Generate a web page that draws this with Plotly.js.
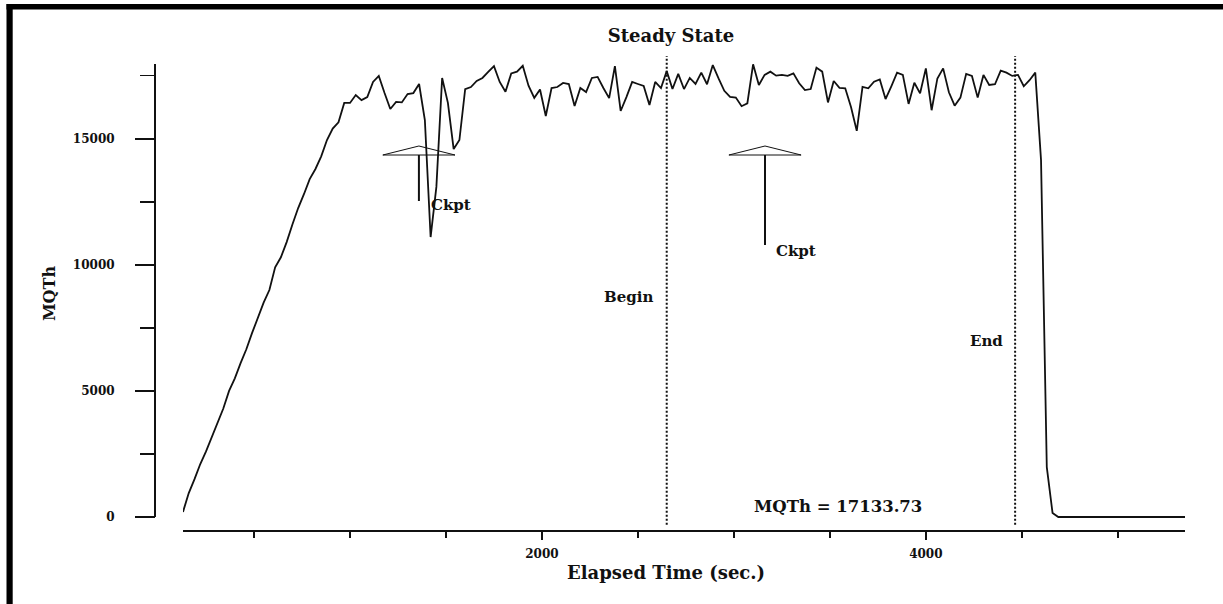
<!DOCTYPE html>
<html>
<head>
<meta charset="utf-8">
<script src="https://cdn.plot.ly/plotly-3.0.1.min.js"></script>
<style>html,body{margin:0;padding:0;background:#fff;}#chart{width:1223px;height:604px;}</style>
</head>
<body>
<div id="chart"></div>
<script>
// ---- data (elapsed time in seconds, MQTh) ----
const elapsedTime = [
  130,160,190,220,250,280,310,340,370,400,
  430,460,490,520,550,580,610,640,670,700,
  730,760,790,820,850,880,910,940,970,1000,
  1030,1060,1090,1120,1150,1180,1210,1240,1270,1300,
  1330,1360,1390,1420,1450,1480,1510,1540,1570,1600,
  1630,1660,1690,1720,1750,1780,1810,1840,1870,1900,
  1930,1960,1990,2020,2050,2080,2110,2140,2170,2200,
  2230,2260,2290,2320,2350,2380,2410,2440,2470,2500,
  2530,2560,2590,2620,2650,2680,2710,2740,2770,2800,
  2830,2860,2890,2920,2950,2980,3010,3040,3070,3100,
  3130,3160,3190,3220,3250,3280,3310,3340,3370,3400,
  3430,3460,3490,3520,3550,3580,3610,3640,3670,3700,
  3730,3760,3790,3820,3850,3880,3910,3940,3970,4000,
  4030,4060,4090,4120,4150,4180,4210,4240,4270,4300,
  4330,4360,4390,4420,4450,4480,4510,4540,4570,4600,
  4630,4660,4690,4720,4750,4780,4810,4840,4870,4900,
  4930,4960,4990,5020,5050,5080,5110,5140,5170,5200,
  5230,5260,5290,5320,5350
];
const mqth = [
  200,950,1500,2100,2600,3150,3700,4300,5000,5500,
  6100,6650,7300,7900,8500,9000,9900,10300,10900,11600,
  12250,12800,13400,13800,14300,14950,15400,15650,16420,16420,
  16730,16530,16650,17250,17490,16810,16180,16460,16440,16770,
  16810,17170,15740,11100,13090,17410,16420,14590,14950,16970,
  17050,17290,17410,17650,17880,17250,16860,17590,17660,17890,
  17100,16620,16950,15900,17010,17050,17210,17170,16300,17010,
  16850,17410,17450,17010,16610,17880,16100,16650,17250,17170,
  17090,16340,17250,17010,17680,16970,17570,16970,17410,17170,
  17620,17160,17920,17390,16900,16660,16630,16290,16400,17950,
  17130,17530,17660,17500,17530,17490,17590,17200,16930,16970,
  17820,17660,16440,17290,17020,17000,16260,15310,17060,17000,
  17260,17350,16570,17080,17620,17530,16380,17220,16800,17790,
  16130,17390,17790,16840,16310,16630,17570,17490,16630,17530,
  17130,17160,17700,17620,17490,17530,17080,17320,17620,14150,
  1980,160,0,0,0,0,0,0,0,0,
  0,0,0,0,0,0,0,0,0,0,
  0,0,0,0,0
];
const steadyBegin = 2650;
const steadyEnd = 4465;
const steadyMean = 17133.73;
const ckptTimes = [1359, 3162];
const ckptStemBottom = [12530, 10785];
const xTickLabels = ['2000', '4000'];

// ---- layout geometry (pixels) ----
const W = 1223, H = 604;
const ML = 155, MR = 38, MT = 56, MB = 73;
const PW = W - ML - MR, PH = H - MT - MB;
const px2paperX = p => (p - ML) / PW;
const px2paperY = p => (H - MB - p) / PH;

const yRange = [-555, 18280];
const yAxisTop = 17962;
const roofBase = 14354, roofPeak = 14711, roofHalf = 188;
const ink = '#111';
const fam = 'DejaVu Serif, serif';

const shapes = [];
// outer frame (thick left and top bars)
shapes.push({type:'rect', xref:'paper', yref:'paper', x0:px2paperX(6.5), x1:px2paperX(12.7), y0:px2paperY(620), y1:px2paperY(4), fillcolor:'#000', line:{width:0}, layer:'above'});
shapes.push({type:'rect', xref:'paper', yref:'paper', x0:px2paperX(6.5), x1:px2paperX(1240), y0:px2paperY(9.5), y1:px2paperY(4), fillcolor:'#000', line:{width:0}, layer:'above'});
// detached y axis line
shapes.push({type:'line', xref:'paper', yref:'y', x0:0, x1:0, y0:0, y1:yAxisTop, line:{color:ink, width:2}});
// steady state begin / end dotted lines
[steadyBegin, steadyEnd].forEach(t => {
  shapes.push({type:'line', xref:'x', yref:'y', x0:t, x1:t, y0:-310, y1:18280, line:{color:ink, width:2, dash:'2px,2px'}});
});
// checkpoint markers
ckptTimes.forEach((t, k) => {
  shapes.push({type:'path', xref:'x', yref:'y',
    path:`M ${t-roofHalf},${roofBase} L ${t},${roofPeak} L ${t+roofHalf},${roofBase} Z`,
    line:{color:ink, width:1}, fillcolor:'rgba(0,0,0,0)'});
  shapes.push({type:'line', xref:'x', yref:'y', x0:t, x1:t, y0:roofBase, y1:ckptStemBottom[k], line:{color:ink, width:2}});
});

const annFont = {family:fam, size:15, color:ink, weight:'bold'};
const annotations = [
  {x:steadyBegin, y:8723, xref:'x', yref:'y', text:'Begin', showarrow:false, xanchor:'right', xshift:-12, font:annFont},
  {x:steadyEnd, y:6979, xref:'x', yref:'y', text:'End', showarrow:false, xanchor:'right', xshift:-10, font:annFont},
  {x:ckptTimes[0], y:12371, xref:'x', yref:'y', text:'Ckpt', showarrow:false, xanchor:'left', xshift:10, font:annFont},
  {x:ckptTimes[1], y:10547, xref:'x', yref:'y', text:'Ckpt', showarrow:false, xanchor:'left', xshift:9, font:annFont},
  {x:3542, y:436, xref:'x', yref:'y', text:'MQTh = ' + steadyMean.toFixed(2), showarrow:false, xanchor:'center',
   font:{family:fam, size:16.5, color:ink, weight:'bold'}},
  // x axis title, centred on the whole plotting frame as in the original
  {x:px2paperX(666), y:px2paperY(572), xref:'paper', yref:'paper', text:'Elapsed Time (sec.)', showarrow:false,
   xanchor:'center', yanchor:'middle', font:{family:fam, size:18, color:ink, weight:'bold'}}
];

const trace = {
  x: elapsedTime, y: mqth, type:'scatter', mode:'lines',
  line:{color:ink, width:1.8}, hoverinfo:'x+y', showlegend:false
};

const layout = {
  width:W, height:H,
  margin:{l:ML, r:MR, t:MT, b:MB, pad:0},
  paper_bgcolor:'#fff', plot_bgcolor:'#fff',
  font:{family:fam, color:ink},
  showlegend:false,
  title:{text:'Steady State', x:px2paperX(671), xref:'paper', xanchor:'center', y:1-36/H, yref:'container', yanchor:'middle',
         font:{family:fam, size:18, color:ink, weight:'bold'}},
  xaxis:{
    domain:[px2paperX(183), 1], range:[130, 5350], anchor:'free', position:0,
    showline:true, linecolor:ink, linewidth:2, showgrid:false, zeroline:false,
    tickmode:'array', tickvals:[2000, 4000], ticktext:xTickLabels,
    ticks:'outside', ticklen:8, tickwidth:2, tickcolor:ink,
    minor:{tickmode:'linear', tick0:0, dtick:500, ticks:'outside', ticklen:6, tickwidth:2, tickcolor:ink, showgrid:false},
    ticklabelstandoff:4,
    tickfont:{family:fam, size:12, color:ink, weight:'bold'}
  },
  yaxis:{
    domain:[0, 1], range:yRange, anchor:'free', position:0,
    showline:false, showgrid:false, zeroline:false,
    tickmode:'linear', tick0:0, dtick:5000, tickformat:'d',
    ticks:'outside', ticklen:20, tickwidth:2, tickcolor:ink,
    minor:{tickmode:'linear', tick0:2500, dtick:5000, ticks:'outside', ticklen:15, tickwidth:1.5, tickcolor:ink, showgrid:false},
    ticklabelstandoff:18,
    tickfont:{family:fam, size:12, color:ink, weight:'bold'},
    title:{text:'MQTh', standoff:12, font:{family:fam, size:16, color:ink, weight:'bold'}}
  },
  shapes:shapes,
  annotations:annotations
};

Plotly.newPlot('chart', [trace], layout, {displayModeBar:false, staticPlot:true});
</script>
</body>
</html>
